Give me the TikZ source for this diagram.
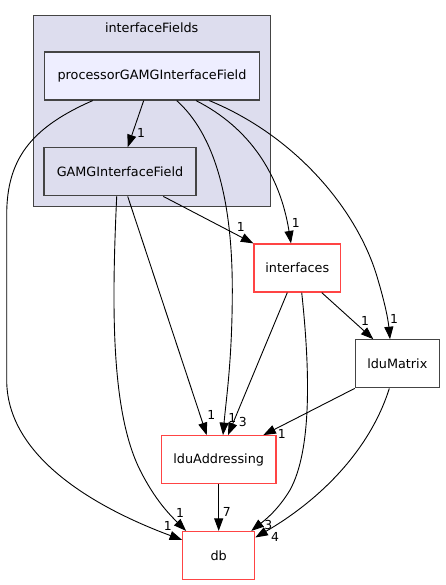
\documentclass[tikz,border=0pt]{standalone}
\usepackage{fontspec}
\setmainfont{DejaVu Sans}
\usetikzlibrary{arrows.meta,calc}
\definecolor{clusterfill}{HTML}{DDDDEE}
\definecolor{dirfill}{HTML}{EEEEFF}
\definecolor{edgegray}{HTML}{444444}
\definecolor{dirred}{HTML}{FF4444}
\begin{document}
\begin{tikzpicture}[x=1pt, y=-1pt,
    dir/.style={draw=edgegray, line width=1.2pt, fill=white, minimum height=48pt, inner sep=0pt, font=\fontsize{12.8}{14}\selectfont},
    reddir/.style={dir, draw=dirred},
    arrow/.style={-{Triangle[length=12.5pt, width=9pt]}, line width=0.9pt},
    num/.style={font=\fontsize{12.4}{14}\selectfont, inner sep=0pt}
]
    \useasboundingbox (0,0) rectangle (445,585);

    % Cluster
    \node[draw=edgegray, line width=1.2pt, fill=clusterfill, minimum width=237.4pt, minimum height=191pt] (fields) at (152,111.2) {};
    \node[font=\fontsize{12.8}{14}\selectfont] (fieldstitle) at (151.7,27.3) {interfaceFields};

    % Directories
    \node[dir, fill=dirfill, minimum width=214.6pt] (proc) at (152,76) {processorGAMGInterfaceField};
    \node[dir, fill=clusterfill, minimum width=152pt] (gamg) at (120,171.8) {GAMGInterfaceField};
    \node[reddir, minimum width=86.7pt] (ifaces) at (297.3,268) {interfaces};
    \node[dir, minimum width=84pt] (ldumat) at (397.3,363.8) {lduMatrix};
    \node[reddir, minimum width=114.7pt] (lduaddr) at (218.7,459.7) {lduAddressing};
    \node[reddir, minimum width=72pt] (db) at (218.7,555.5) {db};

    % Arrows
    \draw[arrow] ($(proc.south)+(-8.3,0)$) -- ($(gamg.north)+(7.7,0)$);
    \draw[arrow] ($(proc.south)+(-59.3,0)$) .. controls (30,128) and (6.7,160) .. (6.7,215) -- (6.7,380) .. controls (6.7,465) and (115,515) .. ($(db.north west)+(0,9)$);
    \draw[arrow] ($(proc.south)+(24.7,0)$) .. controls (215,135) and (232.3,200) .. (232.3,290) .. controls (232.3,360) and (226,400) .. ($(lduaddr.north)+(4.3,0)$);
    \draw[arrow] ($(proc.south)+(44,0)$) .. controls (250,128) and (280,175) .. ($(ifaces.north)+(-6.3,0)$);
    \draw[arrow] ($(proc.south)+(57.3,0)$) .. controls (300,138) and (360,215) .. (378,280) .. controls (384,300) and (388,318) .. ($(ldumat.north)+(-7.3,0)$);
    \draw[arrow] ($(gamg.south)+(43.3,0)$) -- (ifaces.north west);
    \draw[arrow] ($(gamg.south)+(7.7,0)$) -- ($(lduaddr.north)+(-12,0)$);
    \draw[arrow] ($(gamg.south)+(-3.3,0)$) .. controls (112,300) and (110,410) .. (140,470) .. controls (155,500) and (170,515) .. ($(db.north west)+(4,0)$);
    \draw[arrow] ($(ifaces.south)+(-10,0)$) -- ($(lduaddr.north)+(9.3,0)$);
    \draw[arrow] ($(ifaces.south)+(4.4,0)$) .. controls (310,370) and (312,450) .. (290,490) .. controls (278,510) and (265,520) .. ($(db.north east)+(-4,0)$);
    \draw[arrow] ($(ifaces.south)+(24.4,0)$) -- ($(ldumat.north)+(-24,0)$);
    \draw[arrow] (ldumat.south west) -- ($(lduaddr.north)+(44.6,0)$);
    \draw[arrow] ($(ldumat.south)+(-8,0)$) .. controls (370,450) and (320,500) .. ($(db.north east)+(0,6.6)$);
    \draw[arrow] (lduaddr.south) -- (db.north);

    % Edge counts
    \node[num] (n1) at (141,132.7) {1};
    \node[num] (n2) at (167.7,526) {1};
    \node[num] (n3) at (232.3,418.3) {1};
    \node[num] (n4) at (295.7,222.7) {1};
    \node[num] (n5) at (394,319) {1};
    \node[num] (n6) at (240.7,227.3) {1};
    \node[num] (n7) at (211.3,415) {1};
    \node[num] (n8) at (180,512.7) {1};
    \node[num] (n9) at (242.7,421.7) {3};
    \node[num] (n10) at (268.3,525) {3};
    \node[num] (n11) at (365,320.7) {1};
    \node[num] (n12) at (281.7,434) {1};
    \node[num] (n13) at (275,537.3) {4};
    \node[num] (n14) at (226.7,512.3) {7};
\end{tikzpicture}
\end{document}
